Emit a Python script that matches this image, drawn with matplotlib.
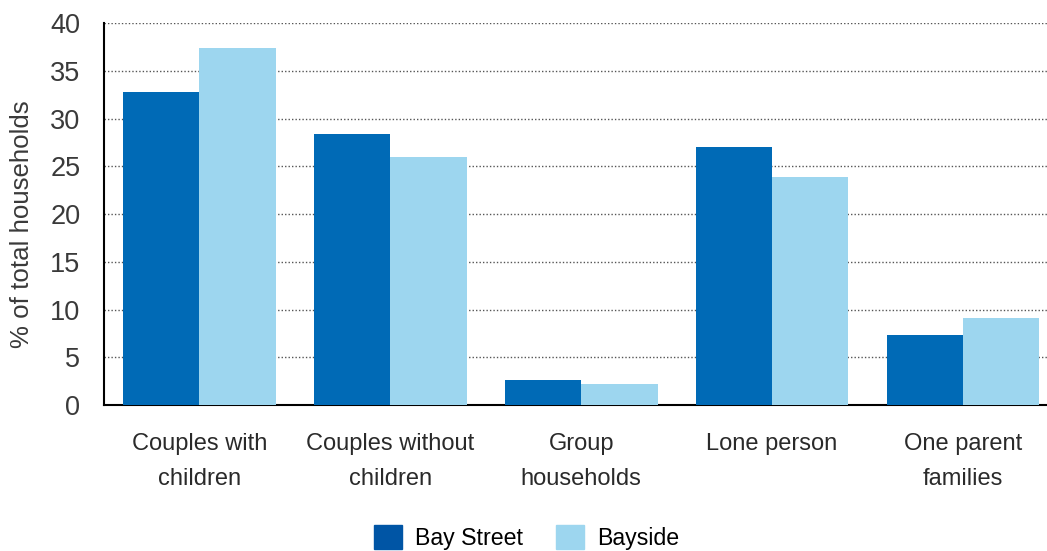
import matplotlib.pyplot as plt
import numpy as np
from matplotlib.patches import Patch

plt.rcParams['font.family'] = ['Liberation Sans', 'DejaVu Sans']

categories = ['Couples with\nchildren', 'Couples without\nchildren', 'Group\nhouseholds',
              'Lone person', 'One parent\nfamilies']
bay_street = [32.8, 28.4, 2.6, 27.0, 7.3]
bayside = [37.4, 26.0, 2.2, 23.9, 9.1]

c_street = '#006AB6'
c_bayside = '#9DD6EF'

fig = plt.figure(figsize=(10.47, 5.51), dpi=100)
ax = fig.add_axes([0.0993, 0.265, 0.9007, 0.693])

x = np.arange(len(categories))
w = 0.4
ax.bar(x - w / 2, bay_street, w, color=c_street, zorder=3)
ax.bar(x + w / 2, bayside, w, color=c_bayside, zorder=3)

ax.set_ylim(0, 40)
ax.set_xlim(-0.5, 4.44)
ax.set_yticks(range(0, 41, 5))
ax.yaxis.grid(True, linestyle=(0, (1, 1.5)), color='#555555', linewidth=1, zorder=0)
ax.tick_params(axis='y', length=0, labelsize=19.5, colors='#3a3a3a', pad=17)
ax.tick_params(axis='x', length=0, labelsize=17, colors='#2a2a2a', pad=20.5)
ax.set_xticks(x)
ax.set_xticklabels(categories, linespacing=1.75)
for s in ['top', 'right']:
    ax.spines[s].set_visible(False)
ax.spines['left'].set_linewidth(1.5)
ax.spines['bottom'].set_linewidth(1.5)
ax.set_ylabel('% of total households', fontsize=18.6, color='#3a3a3a')
ax.yaxis.set_label_coords(-0.074, 0.474)

handles = [Patch(color='#0055A5', label='Bay Street'), Patch(color=c_bayside, label='Bayside')]
fig.legend(handles=handles, loc='center', bbox_to_anchor=(0.503, 0.024), ncol=2,
           frameon=False, fontsize=16.7, handlelength=1.2, handleheight=1.2,
           columnspacing=1.45, handletextpad=0.55)

fig.savefig('out.png', dpi=100)
